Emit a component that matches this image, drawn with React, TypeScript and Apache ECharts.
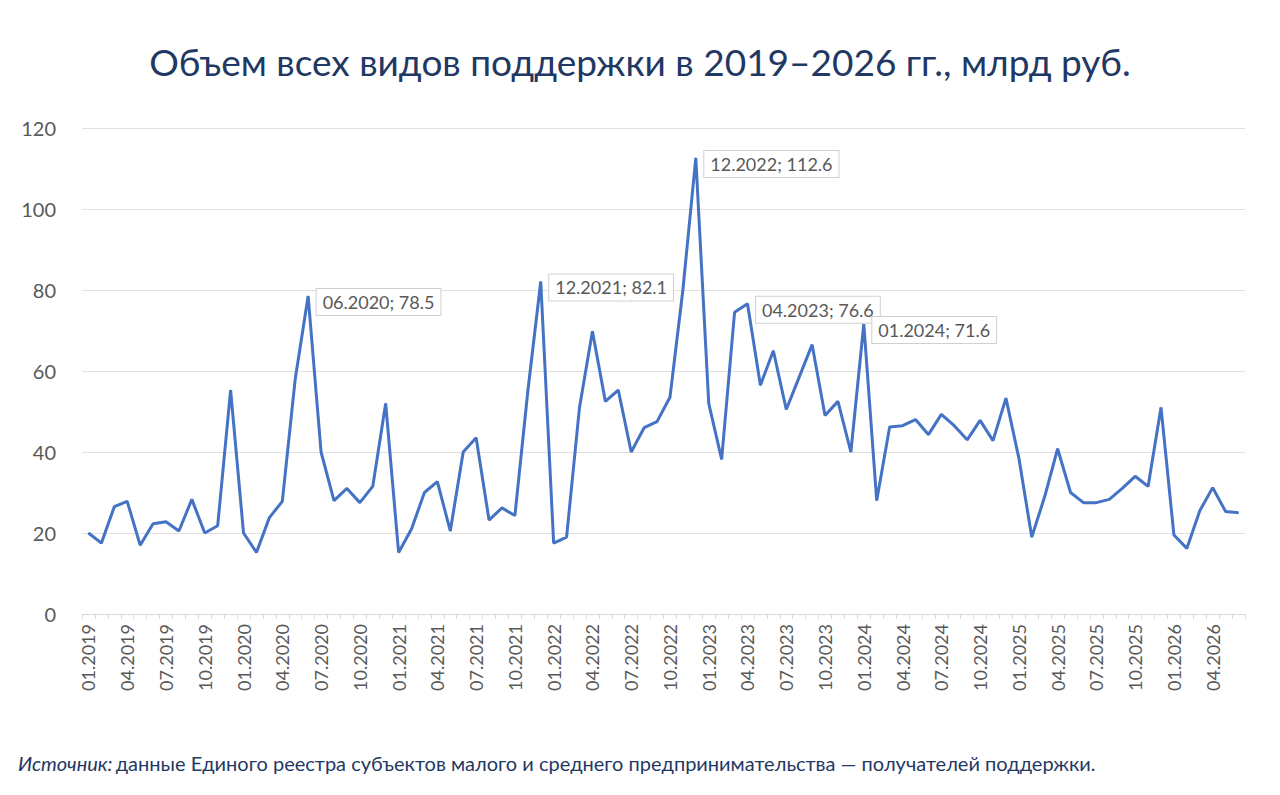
import React, { useEffect, useRef } from "react";
import * as echarts from "echarts";

const values: number[] = [
  20, 17.5, 26.5, 27.8, 17, 22.3, 22.8, 20.5, 28.3, 20, 21.8, 55.3,
  20, 15.2, 23.8, 27.8, 58, 78.5, 40, 28, 31, 27.5, 31.5, 52,
  15.2, 21, 30, 32.7, 20.5, 40, 43.5, 23.2, 26.2, 24.3, 55, 82.1,
  17.5, 19, 51, 69.8, 52.5, 55.3, 40, 46, 47.5, 53.5, 80, 112.6,
  52, 38.2, 74.5, 76.6, 56.5, 65, 50.5, 58.5, 66.5, 49, 52.5, 40,
  71.6, 28, 46.2, 46.5, 48, 44.3, 49.3, 46.5, 43, 47.8, 42.8, 53.3,
  38.5, 19, 29, 40.8, 30, 27.5, 27.5, 28.3, 31, 34, 31.5, 51,
  19.5, 16.2, 25.5, 31.2, 25.3, 25,
];
const startYear = 2019;
const categories: string[] = values.map((_, i) => {
  const m = (i % 12) + 1;
  const y = startYear + Math.floor(i / 12);
  return `${m < 10 ? "0" + m : m}.${y}`;
});
const annotated: string[] = ["06.2020", "12.2021", "12.2022", "04.2023", "01.2024"];

export default function App() {
  const ref = useRef<HTMLDivElement>(null);
  useEffect(() => {
    const chart = echarts.init(ref.current!, null, { renderer: "svg" });
    const data = values.map((v, i) =>
      annotated.includes(categories[i])
        ? {
            value: v,
            label: {
              show: true,
              position: "right",
              distance: 8,
              offset: [0, 6],
              formatter: `${categories[i]}; ${v}`,
              color: "#595959",
              fontSize: 18,
              fontFamily: "Lato",
              backgroundColor: "#fff",
              borderColor: "#d0d0d0",
              borderWidth: 1,
              padding: [4, 6],
            },
          }
        : v
    );
    chart.setOption({
      animation: false,
      title: {
        text: "Объем всех видов поддержки в 2019–2026 гг., млрд руб.",
        left: "center",
        top: 30,
        textStyle: { color: "#1f3864", fontSize: 37, fontWeight: "normal", fontFamily: "Lato" },
      },
      graphic: [
        {
          type: "text",
          left: 10,
          top: 745,
          style: {
            rich: {
              i: { fontStyle: "italic", fontSize: 20, fill: "#1f3864", fontFamily: "Lato" },
              n: { fontSize: 20, fill: "#1f3864", fontFamily: "Lato" },
            },
            text: "{i|Источник:} {n|данные Единого реестра субъектов малого и среднего предпринимательства — получателей поддержки.}",
          },
        },
      ],
      grid: { left: 74, right: 27, top: 120, bottom: 173 },
      xAxis: {
        type: "category",
        data: categories,
        boundaryGap: true,
        axisLine: { lineStyle: { color: "#d9d9d9" } },
        axisTick: { show: true, interval: 0, lineStyle: { color: "#d9d9d9" }, length: 5 },
        axisLabel: { interval: 2, rotate: 90, color: "#595959", fontSize: 18, fontFamily: "Lato", margin: 10 },
      },
      yAxis: {
        type: "value",
        min: 0,
        max: 120,
        interval: 20,
        axisLabel: { color: "#595959", fontSize: 20, fontFamily: "Lato", margin: 26 },
        splitLine: { lineStyle: { color: "#e0e0e0" } },
      },
      series: [
        {
          type: "line",
          data,
          symbol: "circle",
          symbolSize: 1,
          showSymbol: true,
          lineStyle: { color: "#4472c4", width: 3 },
          itemStyle: { color: "#4472c4" },
        },
      ],
    });
    return () => chart.dispose();
  }, []);
  return <div ref={ref} style={{ width: 1264, height: 779 }} />;
}
